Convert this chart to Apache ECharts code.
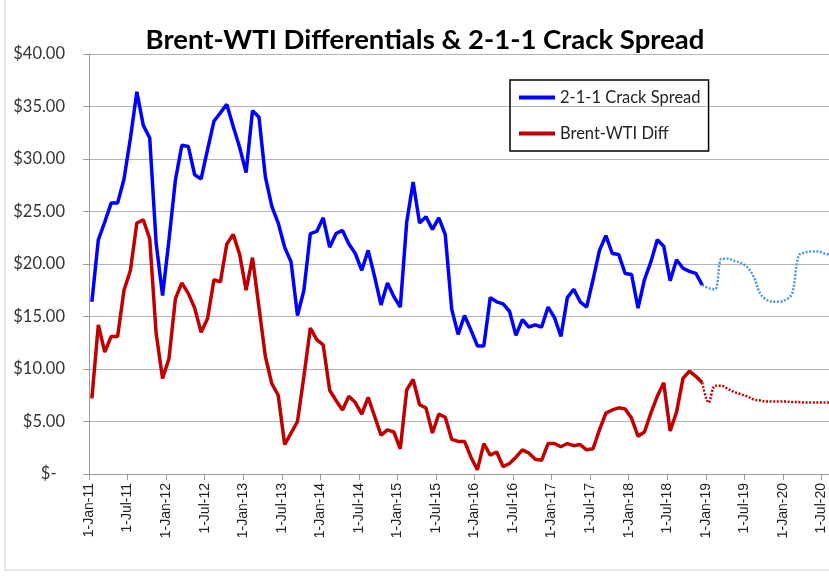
<!DOCTYPE html>
<html>
<head>
<meta charset="utf-8">
<script src="https://cdn.jsdelivr.net/npm/echarts@6/dist/echarts.min.js"></script>
<style>
  html, body { margin: 0; padding: 0; background: #fff; }
  #chart { width: 829px; height: 576px; }
</style>
</head>
<body>
<div id="chart"></div>
<script>
// monthly values, Jan 2011 .. Dec 2018
const crackSpread = [
  16.4, 22.3, 24.0, 25.8, 25.8, 28.1, 32.0, 36.4, 33.2, 32.0, 22.0, 17.0,
  22.3, 28.0, 31.3, 31.2, 28.5, 28.1, 30.9, 33.6, 34.4, 35.2, 33.1, 31.1,
  28.7, 34.6, 34.0, 28.3, 25.5, 23.9, 21.6, 20.2, 15.1, 17.5, 22.9, 23.1,
  24.4, 21.6, 22.9, 23.2, 21.9, 21.0, 19.4, 21.3, 18.8, 16.1, 18.2, 16.9,
  15.9, 24.0, 27.8, 23.9, 24.5, 23.3, 24.4, 22.8, 15.7, 13.3, 15.1, 13.7,
  12.2, 12.2, 16.8, 16.4, 16.2, 15.5, 13.2, 14.7, 14.0, 14.2, 14.0, 15.9,
  14.9, 13.1, 16.8, 17.6, 16.4, 15.9, 18.5, 21.3, 22.7, 21.0, 20.9, 19.1,
  19.0, 15.8, 18.5, 20.2, 22.3, 21.7, 18.4, 20.4, 19.6, 19.3, 19.1, 18.0
];
const brentWtiDiff = [
  7.2, 14.2, 11.6, 13.1, 13.1, 17.5, 19.4, 23.9, 24.2, 22.4, 13.4, 9.1,
  11.0, 16.7, 18.2, 17.2, 15.8, 13.5, 14.8, 18.5, 18.3, 21.9, 22.8, 20.9,
  17.5, 20.6, 15.9, 11.2, 8.6, 7.5, 2.8, 3.9, 5.0, 9.3, 13.9, 12.8,
  12.3, 8.0, 7.0, 6.1, 7.4, 6.8, 5.7, 7.3, 5.5, 3.7, 4.2, 4.0,
  2.4, 8.0, 9.0, 6.6, 6.3, 3.9, 5.7, 5.4, 3.3, 3.1, 3.1, 1.6,
  0.4, 2.9, 1.8, 2.1, 0.7, 1.0, 1.6, 2.3, 2.0, 1.4, 1.3, 2.9,
  2.9, 2.6, 2.9, 2.7, 2.8, 2.3, 2.4, 4.2, 5.8, 6.1, 6.3, 6.2,
  5.3, 3.6, 4.0, 5.8, 7.4, 8.7, 4.1, 5.9, 9.1, 9.8, 9.3, 8.7
];
// forecasts, Dec 2018 onward
const crackForecast = [
  18.0, 17.7, 17.6, 20.5, 20.5, 20.3, 20.1, 19.7, 18.8, 17.2, 16.6, 16.4,
  16.4, 16.6, 17.2, 20.8, 21.1, 21.2, 21.2, 21.0, 20.9
];
const diffForecast = [
  8.7, 6.8, 8.4, 8.4, 8.1, 7.8, 7.6, 7.4, 7.1, 7.0, 6.9, 6.9,
  6.9, 6.9, 6.85, 6.85, 6.8, 6.8, 6.8, 6.8, 6.8
];
const forecastStart = 95;
const yTicks = [0, 5, 10, 15, 20, 25, 30, 35, 40];
const monthNames = ["Jan", "Feb", "Mar", "Apr", "May", "Jun", "Jul", "Aug", "Sep", "Oct", "Nov", "Dec"];
const startYear = 2011;
const midMonth = 0.45; // values dated mid-month

const toPoints = (arr, offset) => arr.map((v, i) => [offset + i + midMonth, v]);

const dateLabel = (m) => {
  const yy = String((startYear + Math.floor(m / 12)) % 100).padStart(2, "0");
  return "1-" + monthNames[m % 12] + "-" + yy;
};

const chart = echarts.init(document.getElementById("chart"));

chart.setOption({
  animation: false,
  backgroundColor: "#fff",
  title: {
    text: "Brent-WTI Differentials & 2-1-1 Crack Spread",
    left: 420,
    textAlign: "center",
    top: 21,
    textStyle: { fontFamily: "Lato", fontWeight: "bold", fontSize: 27.5, color: "#000" }
  },
  legend: {
    orient: "vertical",
    left: 510,
    top: 80,
    data: ["2-1-1 Crack Spread", "Brent-WTI Diff"],
    icon: "rect",
    itemWidth: 36,
    itemHeight: 4,
    itemGap: 19,
    padding: [9, 8, 9, 9],
    borderColor: "#000",
    borderWidth: 1.5,
    textStyle: { fontFamily: "Lato", fontSize: 16.5, color: "#222" }
  },
  graphic: [{
    type: "rect",
    shape: { x: 5, y: -10, width: 900, height: 580 },
    style: { fill: "none", stroke: "#d0d0d0", lineWidth: 1 },
    silent: true
  }],
  grid: { left: 89, top: 54, width: 771, height: 420, outerBoundsMode: "none", containLabel: false },
  xAxis: {
    type: "value",
    min: 0,
    max: 120,
    interval: 6,
    axisLine: { lineStyle: { color: "#9a9a9a", width: 1 } },
    axisTick: { show: true, length: 6, lineStyle: { color: "#9a9a9a" } },
    splitLine: { show: false },
    axisLabel: {
      rotate: 90,
      margin: 9,
      fontFamily: "Liberation Sans",
      fontSize: 14,
      color: "#222",
      formatter: (v) => dateLabel(v)
    }
  },
  yAxis: {
    type: "value",
    min: yTicks[0],
    max: yTicks[yTicks.length - 1],
    interval: 5,
    axisLine: { show: true, lineStyle: { color: "#9a9a9a", width: 1 } },
    axisTick: { show: true, length: 6, lineStyle: { color: "#9a9a9a" } },
    splitLine: { lineStyle: { color: "#b4b4b4", width: 1.2 } },
    axisLabel: {
      margin: 24,
      fontFamily: "Lato",
      fontSize: 16.5,
      color: "#333",
      formatter: (v) => (v === 0 ? "$-  " : "$" + v.toFixed(2))
    }
  },
  series: [
    {
      name: "2-1-1 Crack Spread",
      type: "line",
      data: toPoints(crackSpread, 0),
      symbol: "none",
      lineStyle: { color: "#0000ff", width: 3.5 },
      itemStyle: { color: "#0000ff" },
      z: 4
    },
    {
      name: "Brent-WTI Diff",
      type: "line",
      data: toPoints(brentWtiDiff, 0),
      symbol: "none",
      lineStyle: { color: "#c00000", width: 3.5 },
      itemStyle: { color: "#c00000" },
      z: 4
    },
    {
      name: "Crack Forecast",
      type: "line",
      data: toPoints(crackForecast, forecastStart),
      symbol: "none",
      smooth: 0.35,
      lineStyle: { color: "#4f9ad6", width: 2.5, type: [2, 1.6] },
      z: 3
    },
    {
      name: "Diff Forecast",
      type: "line",
      data: toPoints(diffForecast, forecastStart),
      symbol: "none",
      smooth: 0.35,
      lineStyle: { color: "#c00000", width: 2.5, type: [2, 1.6] },
      z: 3
    }
  ]
});
</script>
</body>
</html>
